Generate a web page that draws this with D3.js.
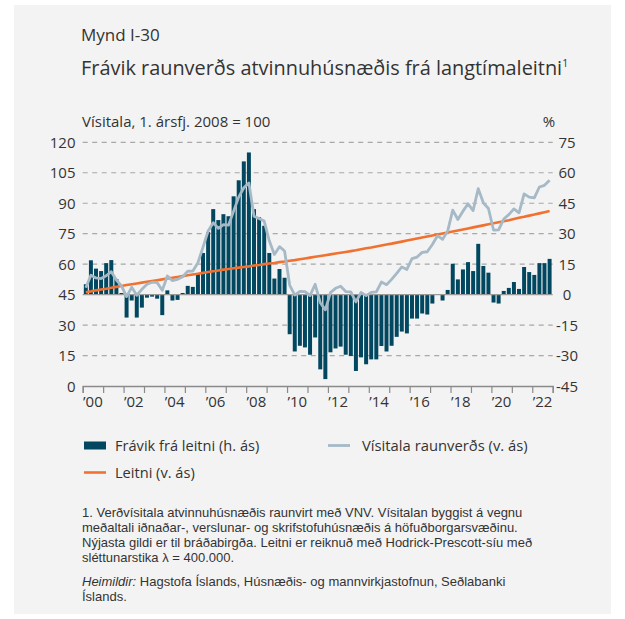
<!DOCTYPE html>
<html>
<head>
<meta charset="utf-8">
<script src="https://cdn.jsdelivr.net/npm/d3@7"></script>
<style>
  body { margin: 0; background: #ffffff; }
  svg text { font-family: "Open Sans", "Noto Sans", sans-serif; fill: #333; }
  svg text.note { font-family: "Liberation Sans", Arial, sans-serif; }
</style>
</head>
<body>
<svg id="svg" width="625" height="619"></svg>
<script>
const width = 625;
const height = 619;

// quarterly data, 2000Q1 - 2022Q4
const years = d3.range(2000, 2023);
const quarters = years.flatMap((y) => [1, 2, 3, 4].map((q) => `${y}Q${q}`));

// Frávik frá leitni (%) - right axis
const deviation = [
  5.1, 16.9, 12.8, 11.6,
  15.5, 17.0, 7.7, 0.8,
  -11.3, -2.9, -11.3, -6.4,
  -1.5, -1.0, -2.0, -10.1,
  2.1, -2.9, -2.6, 0.8,
  4.3, 3.8, 10.3, 20.5,
  30.8, 42.1, 36.7, 39.6,
  38.6, 48.4, 56.3, 65.6,
  70.0, 42.1, 38.1, 33.9,
  20.5, 7.9, 12.6, 8.3,
  -19.5, -28.0, -25.2, -26.0,
  -29.6, -21.1, -36.8, -41.6,
  -28.4, -26.5, -25.6, -29.6,
  -30.2, -37.6, -30.9, -34.3,
  -31.9, -31.9, -25.3, -28.0,
  -25.2, -20.8, -18.2, -19.1,
  -11.8, -11.8, -9.3, -9.8,
  -4.4, 0.3, -2.9, 2.3,
  15.2, 7.5, 12.4, 16.0,
  11.6, 25.0, 14.1, 10.8,
  -3.9, -4.4, 1.8, 3.3,
  6.2, 2.8, 13.6, 11.1,
  9.7, 15.5, 15.5, 17.6,
];

// Vísitala raunverðs - left axis
const realIndex = [
  48.4, 54.5, 53.2, 52.9,
  54.3, 56.3, 52.2, 49.3,
  44.0, 48.6, 44.7, 47.6,
  50.1, 51.1, 50.9, 47.1,
  54.2, 51.9, 52.5, 53.8,
  56.5, 56.6, 60.7, 68.4,
  76.3, 80.4, 77.6, 79.5,
  79.2, 86.1, 93.0, 97.6,
  100.0, 83.6, 82.5, 81.2,
  71.5, 64.8, 68.6, 66.5,
  49.7, 44.8, 46.6, 46.5,
  44.5, 50.1, 41.0, 37.5,
  46.0, 48.1, 49.1, 46.5,
  46.3, 41.4, 46.1, 44.5,
  46.1, 46.3, 51.2, 49.9,
  52.5, 55.5, 58.6, 57.4,
  62.7, 63.5, 65.8, 66.1,
  69.7, 74.0, 72.2, 76.3,
  86.6, 82.0, 86.1, 89.7,
  86.4, 97.2, 90.2, 87.4,
  76.8, 76.9, 82.2, 84.4,
  87.2, 85.3, 94.6, 93.0,
  92.6, 98.0, 98.8, 101.3,
];

// Leitni - left axis
const trend = [
  46.2, 46.6, 47.1, 47.5,
  47.9, 48.4, 48.8, 49.2,
  49.7, 50.1, 50.5, 50.9,
  51.3, 51.7, 52.1, 52.5,
  52.9, 53.3, 53.7, 54.1,
  54.5, 54.9, 55.3, 55.7,
  56.1, 56.5, 56.9, 57.3,
  57.6, 58.0, 58.3, 58.6,
  58.9, 59.3, 59.6, 60.0,
  60.3, 60.6, 61.0, 61.3,
  61.7, 62.0, 62.4, 62.8,
  63.2, 63.6, 64.0, 64.4,
  64.8, 65.2, 65.6, 66.0,
  66.4, 66.8, 67.3, 67.8,
  68.2, 68.7, 69.2, 69.7,
  70.1, 70.6, 71.1, 71.6,
  72.1, 72.6, 73.1, 73.6,
  74.1, 74.6, 75.1, 75.6,
  76.1, 76.6, 77.1, 77.6,
  78.1, 78.6, 79.1, 79.6,
  80.1, 80.6, 81.1, 81.6,
  82.2, 82.8, 83.3, 83.9,
  84.4, 85.0, 85.6, 86.2,
];

const leftTicks = [0, 15, 30, 45, 60, 75, 90, 105, 120];
const rightTicks = [-45, -30, -15, 0, 15, 30, 45, 60, 75];
const yearLabels = [2000, 2002, 2004, 2006, 2008, 2010, 2012, 2014, 2016, 2018, 2020, 2022];

const footnote = [
  "1. Verðvísitala atvinnuhúsnæðis raunvirt með VNV. Vísitalan byggist á vegnu",
  "meðaltali iðnaðar-, verslunar- og skrifstofuhúsnæðis á höfuðborgarsvæðinu.",
  "Nýjasta gildi er til bráðabirgða. Leitni er reiknuð með Hodrick-Prescott-síu með",
  "sléttunarstika λ = 400.000.",
];

const barColor = "#00475f";
const indexColor = "#a5b9c6";
const trendColor = "#f07130";
const gridColor = "#a8a8a8";

const plot = { left: 82.7, right: 552.7, top: 142.3, bottom: 386 };

let svg = d3.select("#svg");

svg.append("rect")
  .attr("x", 14).attr("y", 5)
  .attr("width", 597).attr("height", 609)
  .attr("fill", "#f3f3f3");

const x = d3.scaleBand().domain(quarters).range([plot.left, plot.right]).padding(0.22);
const xYear = d3.scaleLinear().domain([2000, 2023]).range([plot.left, plot.right]);
const yL = d3.scaleLinear().domain([0, 120]).range([plot.bottom, plot.top]);
const yR = d3.scaleLinear().domain([-45, 75]).range([plot.bottom, plot.top]);

// header
svg.append("text").attr("x", 81).attr("y", 41)
  .attr("font-size", 17).attr("fill", "#333").text("Mynd I-30");
let title = svg.append("text").attr("x", 81).attr("y", 75)
  .attr("font-size", 19.9).attr("fill", "#222")
  .text("Frávik raunverðs atvinnuhúsnæðis frá langtímaleitni");
title.append("tspan").attr("dy", -8).attr("font-size", 10.5).text("1");
svg.append("text").attr("x", 82).attr("y", 127)
  .attr("font-size", 15).text("Vísitala, 1. ársfj. 2008 = 100");
svg.append("text").attr("x", 549).attr("y", 127)
  .attr("font-size", 15).attr("text-anchor", "middle").text("%");

// grid
svg.append("g")
  .selectAll("line")
  .data(leftTicks.filter((d) => d !== 0 && d !== 45))
  .join("line")
  .attr("x1", plot.left).attr("x2", plot.right)
  .attr("y1", (d) => yL(d)).attr("y2", (d) => yL(d))
  .attr("stroke", gridColor)
  .attr("stroke-width", 1.2)
  .attr("stroke-dasharray", "5,4.5");

// bars
svg.append("g")
  .selectAll("rect")
  .data(deviation)
  .join("rect")
  .attr("x", (d, i) => x(quarters[i]))
  .attr("width", x.bandwidth())
  .attr("y", (d) => Math.min(yR(d), yR(0)))
  .attr("height", (d) => Math.abs(yR(d) - yR(0)))
  .attr("fill", barColor);

// zero line (right axis)
svg.append("line")
  .attr("x1", plot.left).attr("x2", plot.right)
  .attr("y1", yR(0)).attr("y2", yR(0))
  .attr("stroke", "#9a9a9a").attr("stroke-width", 1.3);

const cx = (i) => x(quarters[i]) + x.bandwidth() / 2;

svg.append("path")
  .datum(trend)
  .attr("fill", "none")
  .attr("stroke", trendColor)
  .attr("stroke-width", 2.6)
  .attr("d", d3.line().x((d, i) => cx(i)).y((d) => yL(d)));

svg.append("path")
  .datum(realIndex)
  .attr("fill", "none")
  .attr("stroke", indexColor)
  .attr("stroke-width", 2.8)
  .attr("stroke-linejoin", "round")
  .attr("d", d3.line().x((d, i) => cx(i)).y((d) => yL(d)));

// left axis labels
svg.append("g")
  .selectAll("text")
  .data(leftTicks)
  .join("text")
  .attr("x", 75.5)
  .attr("y", (d) => yL(d) + 5.5)
  .attr("text-anchor", "end")
  .attr("font-size", 15)
  .text((d) => d);

// right axis labels
svg.append("g")
  .selectAll("text")
  .data(rightTicks)
  .join("text")
  .attr("x", 567)
  .attr("y", (d) => yR(d) + 5.5)
  .attr("text-anchor", "middle")
  .attr("font-size", 15)
  .text((d) => d);

// bottom axis
const xAxis = d3.axisBottom(xYear)
  .tickValues(d3.range(2000, 2024))
  .tickSize(7)
  .tickFormat("");
let axisG = svg.append("g")
  .attr("transform", `translate(0,${plot.bottom})`)
  .call(xAxis);
axisG.select(".domain").attr("stroke", "#8a8a8a").attr("stroke-width", 1.3);
axisG.selectAll(".tick line").attr("stroke", "#8a8a8a").attr("stroke-width", 1.2);

svg.append("g")
  .selectAll("text")
  .data(yearLabels)
  .join("text")
  .attr("x", (d) => xYear(d + 0.5))
  .attr("y", 407)
  .attr("text-anchor", "middle")
  .attr("font-size", 15)
  .text((d) => "’" + String(d).slice(2));

// legend
let legend = svg.append("g");
legend.append("rect").attr("x", 84).attr("y", 441.5).attr("width", 22).attr("height", 8).attr("fill", barColor);
legend.append("text").attr("x", 115).attr("y", 451).attr("font-size", 14.6).text("Frávik frá leitni (h. ás)");
legend.append("line").attr("x1", 328).attr("x2", 350).attr("y1", 445.5).attr("y2", 445.5)
  .attr("stroke", indexColor).attr("stroke-width", 2.8);
legend.append("text").attr("x", 362).attr("y", 451).attr("font-size", 14.8).text("Vísitala raunverðs (v. ás)");
legend.append("line").attr("x1", 84).attr("x2", 106).attr("y1", 472.5).attr("y2", 472.5)
  .attr("stroke", trendColor).attr("stroke-width", 2.6);
legend.append("text").attr("x", 115).attr("y", 478).attr("font-size", 14.6).text("Leitni (v. ás)");

// footnote
let notes = svg.append("g");
notes.selectAll("text")
  .data(footnote)
  .join("text")
  .attr("class", "note")
  .attr("x", 82)
  .attr("y", (d, i) => 517 + i * 15)
  .attr("font-size", 13)
  .text((d) => d);
let src = notes.append("text").attr("class", "note").attr("x", 82).attr("y", 586).attr("font-size", 13);
src.append("tspan").attr("font-style", "italic").text("Heimildir:");
src.append("tspan").text(" Hagstofa Íslands, Húsnæðis- og mannvirkjastofnun, Seðlabanki");
notes.append("text").attr("class", "note").attr("x", 82).attr("y", 601).attr("font-size", 13).text("Íslands.");
</script>
</body>
</html>
